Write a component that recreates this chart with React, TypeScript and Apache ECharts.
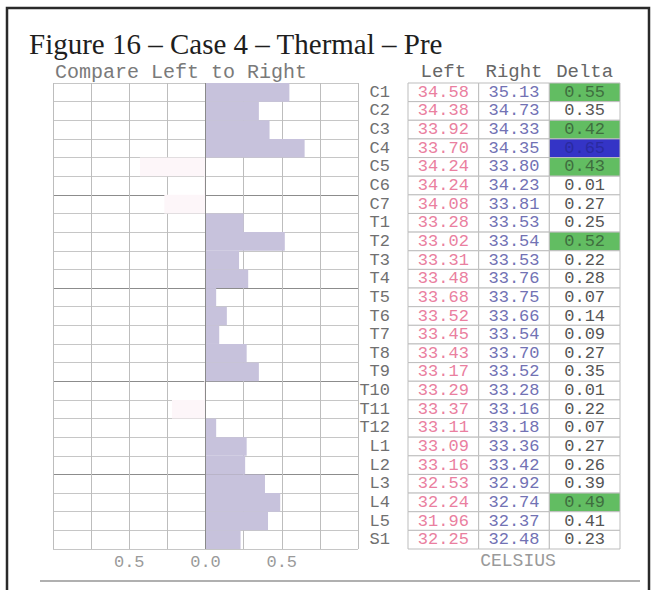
import React, { useEffect, useRef } from "react";
import * as echarts from "echarts";

const categories = [
  "C1", "C2", "C3", "C4", "C5", "C6", "C7",
  "T1", "T2", "T3", "T4", "T5", "T6", "T7", "T8", "T9", "T10", "T11", "T12",
  "L1", "L2", "L3", "L4", "L5", "S1",
];
const leftTemps = [
  34.58, 34.38, 33.92, 33.7, 34.24, 34.24, 34.08,
  33.28, 33.02, 33.31, 33.48, 33.68, 33.52, 33.45, 33.43, 33.17, 33.29, 33.37, 33.11,
  33.09, 33.16, 32.53, 32.24, 31.96, 32.25,
];
const rightTemps = [
  35.13, 34.73, 34.33, 34.35, 33.8, 34.23, 33.81,
  33.53, 33.54, 33.53, 33.76, 33.75, 33.66, 33.54, 33.7, 33.52, 33.28, 33.16, 33.18,
  33.36, 33.42, 32.92, 32.74, 32.37, 32.48,
];
const deltas = [
  0.55, 0.35, 0.42, 0.65, 0.43, 0.01, 0.27,
  0.25, 0.52, 0.22, 0.28, 0.07, 0.14, 0.09, 0.27, 0.35, 0.01, 0.22, 0.07,
  0.27, 0.26, 0.39, 0.49, 0.41, 0.23,
];
const highlight = [
  "green", "", "green", "blue", "green", "", "",
  "", "green", "", "", "", "", "", "", "", "", "", "",
  "", "", "", "green", "", "",
];
const tableColumns = ["Left", "Right", "Delta"];
const shownTicks = [-0.5, 0, 0.5];

const groupBreaks = [6, 11, 16, 21];
const MONO = "Liberation Mono";

export default function App() {
  const ref = useRef<HTMLDivElement>(null);

  useEffect(() => {
    if (!ref.current) return;
    const chart = echarts.init(ref.current, null, { renderer: "svg" });

    const signed = deltas.map((d, i) => (rightTemps[i] >= leftTemps[i] ? d : -d));
    const cells: { col: number; row: number; text: string; fill: string; color: string }[] = [];
    categories.forEach((_, r) => {
      cells.push({ col: 0, row: r, text: leftTemps[r].toFixed(2), fill: "#ffffff", color: "#ea7fa0" });
      cells.push({ col: 1, row: r, text: rightTemps[r].toFixed(2), fill: "#ffffff", color: "#7272b4" });
      const h = highlight[r];
      cells.push({
        col: 2,
        row: r,
        text: deltas[r].toFixed(2),
        fill: h === "green" ? "#62bd62" : h === "blue" ? "#3434c6" : "#ffffff",
        color: h === "green" ? "#3f6e3f" : h === "blue" ? "#2a2aa0" : "#555555",
      });
    });

    const splitColors = Array.from({ length: categories.length + 1 }, (_, i) =>
      groupBreaks.includes(i) ? "#8c8c8c" : "#c6c6c6"
    );

    const option: any = {
      animation: false,
      backgroundColor: "#ffffff",
      grid: [
        { left: 53, top: 83, width: 305, height: 466 },
        { left: 408, top: 83, width: 212, height: 466 },
      ],
      xAxis: [
        {
          gridIndex: 0,
          type: "value",
          min: -1,
          max: 1,
          interval: 0.25,
          axisLine: { show: false },
          axisTick: { show: false },
          splitLine: { show: true, lineStyle: { color: "#bdbdbd", width: 1 } },
          axisLabel: {
            margin: 5,
            fontFamily: MONO,
            fontSize: 17,
            color: "#9a9a9a",
            formatter: (v: number) =>
              shownTicks.some((t) => Math.abs(t - v) < 1e-9) ? Math.abs(v).toFixed(1) : "",
          },
        },
        {
          gridIndex: 1,
          type: "category",
          position: "top",
          data: tableColumns,
          axisLine: { show: false },
          axisTick: { show: false },
          splitLine: { show: false },
          axisLabel: { interval: 0, margin: 2, fontFamily: MONO, fontSize: 19, color: "#666666" },
        },
      ],
      yAxis: [
        {
          gridIndex: 0,
          type: "category",
          data: categories,
          inverse: true,
          axisLine: { show: false },
          axisTick: { show: false, interval: 0 },
          axisLabel: { show: false, interval: 0 },
          splitLine: { show: true, interval: 0, lineStyle: { color: splitColors, width: 1 } },
        },
        {
          gridIndex: 1,
          type: "category",
          data: categories,
          inverse: true,
          axisLine: { show: false },
          axisTick: { show: false },
          splitLine: { show: false },
          axisLabel: { interval: 0, margin: 18, fontFamily: MONO, fontSize: 17, color: "#707070" },
        },
      ],
      series: [
        {
          type: "bar",
          xAxisIndex: 0,
          yAxisIndex: 0,
          barWidth: "100%",
          data: signed.map((v) => ({
            value: v,
            itemStyle: { color: v >= 0 ? "#c7c2dc" : "#fdf6f9" },
          })),
          markLine: {
            silent: true,
            symbol: "none",
            label: { show: false },
            lineStyle: { color: "#8a8a8a", type: "solid", width: 1 },
            data: [{ xAxis: 0 }],
          },
        },
        {
          type: "custom",
          xAxisIndex: 1,
          yAxisIndex: 1,
          data: cells.map((c) => [c.col, c.row]),
          renderItem: (params: any, api: any) => {
            const cell = cells[params.dataIndex];
            const p = api.coord([api.value(0), api.value(1)]);
            const s = api.size([1, 1]);
            return {
              type: "group",
              children: [
                {
                  type: "rect",
                  shape: { x: p[0] - s[0] / 2, y: p[1] - s[1] / 2, width: s[0], height: s[1] },
                  style: { fill: cell.fill, stroke: "#bdbdbd", lineWidth: 1 },
                },
                {
                  type: "text",
                  x: p[0],
                  y: p[1],
                  style: {
                    text: cell.text,
                    fill: cell.color,
                    font: `17px "${MONO}"`,
                    align: "center",
                    verticalAlign: "middle",
                  },
                },
              ],
            };
          },
        },
      ],
      graphic: [
        {
          type: "rect",
          shape: { x: 7, y: 8, width: 642, height: 600 },
          style: { fill: "none", stroke: "#2a2a2a", lineWidth: 2.5 },
          silent: true,
        },
        {
          type: "line",
          shape: { x1: 40, y1: 581, x2: 640, y2: 581 },
          style: { stroke: "#b0b0b0", lineWidth: 2 },
          silent: true,
        },
        {
          type: "text",
          x: 29,
          y: 44,
          style: {
            text: "Figure 16 \u2013 Case 4 \u2013 Thermal \u2013 Pre",
            font: '29px "Liberation Serif"',
            fill: "#1e1e1e",
            align: "left",
            verticalAlign: "middle",
          },
        },
        {
          type: "text",
          x: 55,
          y: 72,
          style: {
            text: "Compare Left to Right",
            font: `20px "${MONO}"`,
            fill: "#7a7a7a",
            align: "left",
            verticalAlign: "middle",
          },
        },
        {
          type: "text",
          x: 518,
          y: 561,
          style: {
            text: "CELSIUS",
            font: `18px "${MONO}"`,
            fill: "#9a9a9a",
            align: "center",
            verticalAlign: "middle",
          },
        },
      ],
    };

    chart.setOption(option);
    return () => chart.dispose();
  }, []);

  return (
    <div
      ref={ref}
      style={{ position: "absolute", left: 0, top: 0, width: 657, height: 590, background: "#fff" }}
    />
  );
}
